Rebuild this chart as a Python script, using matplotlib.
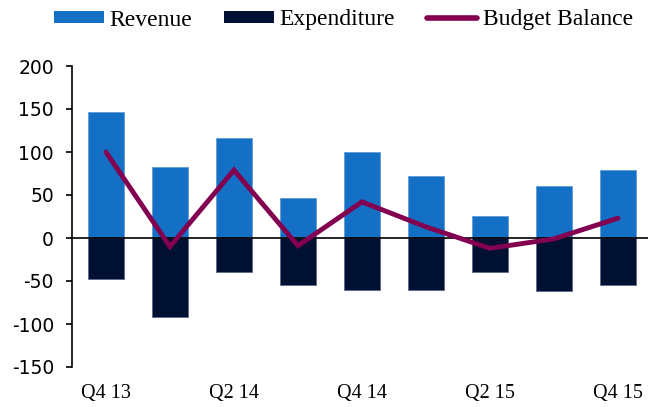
import numpy as np
import matplotlib.pyplot as plt
from matplotlib.patches import Patch
from matplotlib.lines import Line2D

quarters = ["Q4 13", "Q1 14", "Q2 14", "Q3 14", "Q4 14", "Q1 15", "Q2 15", "Q3 15", "Q4 15"]
revenue = [147, 82, 116, 47, 100, 72, 26, 61, 79]
expenditure = [-48, -92, -39, -55, -60, -60, -39, -62, -55]
balance = [100, -10, 79, -9, 42, 13, -12, -1, 23]

c_rev = "#1470c4"
c_exp = "#001033"
c_bal = "#82004f"
serif = "Liberation Serif"

plt.rcParams["axes.unicode_minus"] = False

fig = plt.figure(figsize=(6.48, 4.07), dpi=100)
ax = fig.add_axes([72 / 648, 40 / 407, 576 / 648, 301 / 407])

x = np.arange(len(quarters))
ax.bar(x, revenue, width=0.56, color=c_rev, edgecolor="#5d9bd8", linewidth=0.6, zorder=2)
ax.bar(x, expenditure, width=0.56, color=c_exp, edgecolor="#5a6a8a", linewidth=0.6, zorder=2)
ax.axhline(0, color="black", linewidth=1.2, zorder=3)
ax.plot(x, balance, color=c_bal, linewidth=3.5, solid_capstyle="round", solid_joinstyle="miter", zorder=4)

ax.set_xlim(-0.53, 8.47)
ax.set_ylim(-150, 200)
ax.set_yticks(np.arange(-150, 201, 50))
ax.tick_params(axis="y", labelsize=13.5, length=4, width=1.2, pad=9, direction="out")
for lbl in ax.get_yticklabels():
    lbl.set_family("DejaVu Sans")

ax.set_xticks(x[::2])
ax.set_xticklabels(quarters[::2], fontsize=14.5, family=serif)
ax.tick_params(axis="x", length=0, pad=12)

for s in ["top", "right", "bottom"]:
    ax.spines[s].set_visible(False)
ax.spines["left"].set_linewidth(1.2)

handles = [
    Patch(facecolor=c_rev, edgecolor="none"),
    Patch(facecolor=c_exp, edgecolor="none"),
    Line2D([0], [0], color=c_bal, linewidth=4, solid_capstyle="round"),
]
fig.legend(handles, ["Revenue", "Expenditure", "Budget Balance"], loc="center",
           bbox_to_anchor=(0.53, 1 - 20 / 407), ncol=3, frameon=False, handlelength=2.1,
           handleheight=0.42, handletextpad=0.25, columnspacing=1.35,
           prop={"family": serif, "size": 17})

fig.savefig("out.png", dpi=100)
